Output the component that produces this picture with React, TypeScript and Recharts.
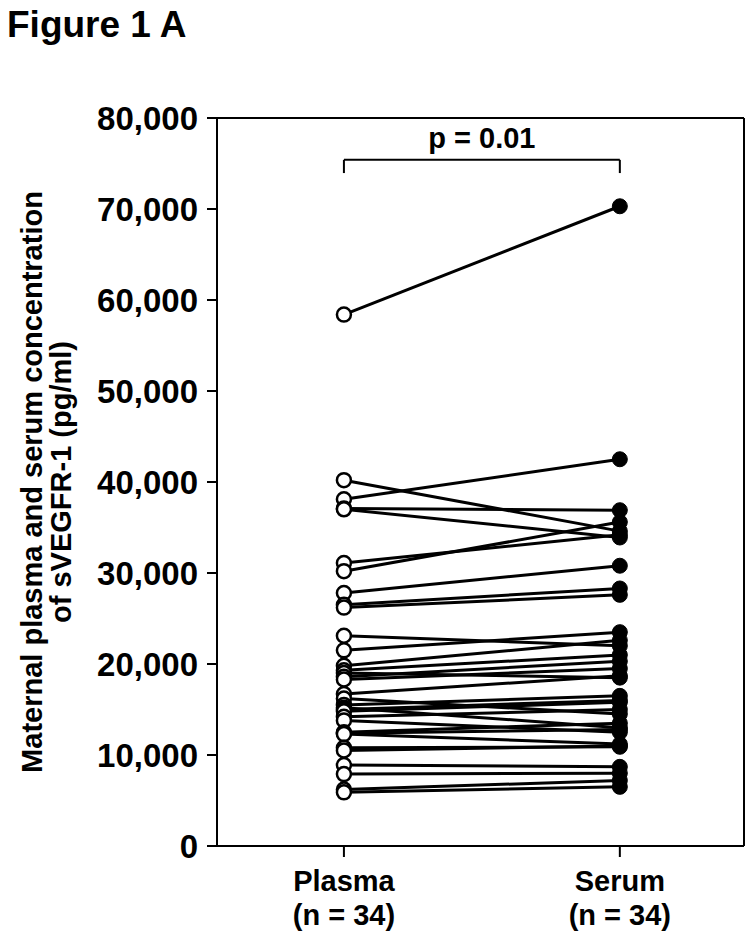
import React from "react";
import {
  ComposedChart,
  Line,
  Scatter,
  XAxis,
  YAxis,
  ReferenceLine,
  Label,
} from "recharts";

// paired samples, same subject order in both arrays (pg/ml)
const plasma = [
  58400, 40200, 38100, 37100, 37000, 31100, 30200, 27800, 26500, 26200,
  23100, 21500, 19800, 19300, 19000, 18600, 18300, 16700, 16200, 15500,
  15200, 15000, 14800, 14200, 13800, 12500, 12400, 12300, 10800, 10500,
  8900, 7900, 6200, 5900,
];
const serum = [
  70300, 34600, 42500, 36900, 33900, 34200, 35600, 30800, 28300, 27600,
  22000, 23500, 22600, 21000, 18500, 20300, 19500, 18700, 14500, 16500,
  13000, 16000, 15800, 15000, 12500, 13500, 12800, 11200, 10900, 11000,
  8700, 8000, 7200, 6500,
];
const groups = ["Plasma", "Serum"];
const groupN = ["(n = 34)", "(n = 34)"];
const yTicks = [0, 10000, 20000, 30000, 40000, 50000, 60000, 70000, 80000];
const pValue = "p = 0.01";

const FONT = "'Liberation Sans', Arial, Helvetica, sans-serif";
const X_MIN = 0.54;
const X_MAX = 2.45;

const chartData = [1, 2].map((x) => {
  const row: Record<string, number> = { x };
  plasma.forEach((v, i) => {
    row[`s${i}`] = x === 1 ? v : serum[i];
  });
  return row;
});
const plasmaPts = plasma.map((v) => ({ x: 1, y: v }));
const serumPts = serum.map((v) => ({ x: 2, y: v }));

const OpenDot = (props: any) => (
  <circle cx={props.cx} cy={props.cy} r={7} fill="#fff" stroke="#000" strokeWidth={2.5} />
);
const FilledDot = (props: any) => (
  <circle cx={props.cx} cy={props.cy} r={7.5} fill="#000" stroke="#000" strokeWidth={1} />
);

const GroupTick = (props: any) => {
  const { x, y, payload } = props;
  const i = payload.value - 1;
  return (
    <g>
      <text x={x} y={y} dy={32} textAnchor="middle" fontFamily={FONT} fontWeight="bold" fontSize={29} fill="#000">
        {groups[i]}
      </text>
      <text x={x} y={y} dy={66} textAnchor="middle" fontFamily={FONT} fontWeight="bold" fontSize={29} fill="#000">
        {groupN[i]}
      </text>
    </g>
  );
};

export default function App() {
  return (
    <div style={{ position: "absolute", left: 0, top: 0, width: 755, height: 939, background: "#fff" }}>
      <div
        style={{
          position: "absolute",
          left: 7,
          top: 6,
          fontFamily: FONT,
          fontWeight: "bold",
          fontSize: 37,
          lineHeight: "37px",
          color: "#000",
        }}
      >
        Figure 1 A
      </div>
      <ComposedChart
        width={755}
        height={939}
        data={chartData}
        margin={{ top: 118, right: 11, left: 8, bottom: 0 }}
      >
        <XAxis
          dataKey="x"
          type="number"
          domain={[X_MIN, X_MAX]}
          ticks={[1, 2]}
          allowDataOverflow
          height={93}
          tickSize={11}
          tickMargin={2}
          axisLine={{ stroke: "#000", strokeWidth: 2 }}
          tickLine={{ stroke: "#000", strokeWidth: 2 }}
          tick={<GroupTick />}
        />
        <YAxis
          type="number"
          domain={[0, 80000]}
          ticks={yTicks}
          allowDataOverflow
          width={209}
          tickSize={10}
          tickMargin={9}
          tickFormatter={(v: number) => v.toLocaleString("en-US")}
          axisLine={{ stroke: "#000", strokeWidth: 2 }}
          tickLine={{ stroke: "#000", strokeWidth: 2 }}
          tick={{ fill: "#000", fontSize: 33, fontWeight: "bold", fontFamily: FONT }}
        >
          <Label
            value="Maternal plasma and serum concentration"
            position="insideLeft"
            angle={-90}
            offset={24}
            style={{ textAnchor: "middle", fontFamily: FONT, fontWeight: "bold", fontSize: 29, fill: "#000" }}
          />
          <Label
            value="of sVEGFR-1 (pg/ml)"
            position="insideLeft"
            angle={-90}
            offset={53}
            style={{ textAnchor: "middle", fontFamily: FONT, fontWeight: "bold", fontSize: 29, fill: "#000" }}
          />
        </YAxis>
        <ReferenceLine y={80000} stroke="#000" strokeWidth={2} />
        <ReferenceLine x={X_MAX} stroke="#000" strokeWidth={2} />
        <ReferenceLine
          segment={[{ x: 1, y: 75400 }, { x: 2, y: 75400 }]}
          stroke="#000"
          strokeWidth={2}
        >
          <Label
            value={pValue}
            position="top"
            offset={12}
            style={{ fontFamily: FONT, fontWeight: "bold", fontSize: 29, fill: "#000" }}
          />
        </ReferenceLine>
        <ReferenceLine segment={[{ x: 1, y: 75400 }, { x: 1, y: 73950 }]} stroke="#000" strokeWidth={2} />
        <ReferenceLine segment={[{ x: 2, y: 75400 }, { x: 2, y: 73950 }]} stroke="#000" strokeWidth={2} />
        {plasma.map((_, i) => (
          <Line
            key={i}
            dataKey={`s${i}`}
            type="linear"
            stroke="#000"
            strokeWidth={3}
            dot={false}
            activeDot={false}
            isAnimationActive={false}
          />
        ))}
        <Scatter data={plasmaPts} dataKey="y" shape={<OpenDot />} isAnimationActive={false} />
        <Scatter data={serumPts} dataKey="y" shape={<FilledDot />} isAnimationActive={false} />
      </ComposedChart>
    </div>
  );
}
